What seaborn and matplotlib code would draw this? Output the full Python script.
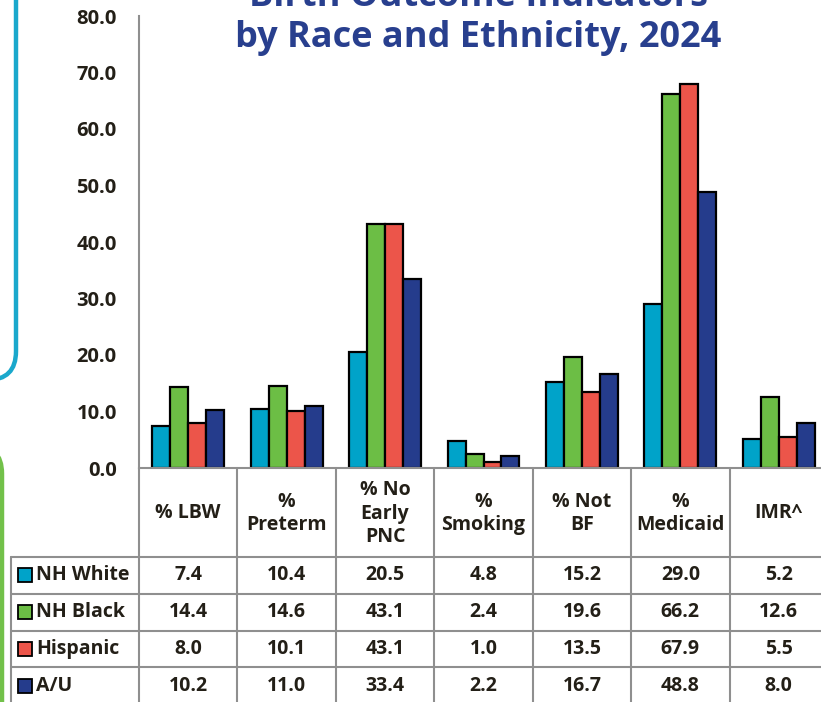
import matplotlib
matplotlib.use("Agg")
import matplotlib.pyplot as plt
import seaborn as sns
import pandas as pd
from matplotlib.patches import FancyBboxPatch

# ---- data ----
categories = ["% LBW", "%\nPreterm", "% No\nEarly\nPNC", "%\nSmoking", "% Not\nBF", "%\nMedicaid", "IMR^"]
groups = ["NH White", "NH Black", "Hispanic", "A/U"]
nh_white = [7.4, 10.4, 20.5, 4.8, 15.2, 29.0, 5.2]
nh_black = [14.4, 14.6, 43.1, 2.4, 19.6, 66.2, 12.6]
hispanic = [8.0, 10.1, 43.1, 1.0, 13.5, 67.9, 5.5]
a_u = [10.2, 11.0, 33.4, 2.2, 16.7, 48.8, 8.0]
y_ticks = [0, 10, 20, 30, 40, 50, 60, 70, 80]
title_lines = ["Birth Outcome Indicators", "by Race and Ethnicity, 2024"]

series = [nh_white, nh_black, hispanic, a_u]
colors = ["#00A3C9", "#6CBE45", "#EC554A", "#253C8C"]

rows = []
for g, vals in zip(groups, series):
    for c, v in zip(categories, vals):
        rows.append({"category": c, "group": g, "value": v})
df = pd.DataFrame(rows)

sns.set_theme(style="white")
plt.rcParams["font.family"] = ["Open Sans", "DejaVu Sans"]

W, H = 821, 702
fig = plt.figure(figsize=(W / 100, H / 100), dpi=100)
fig.patch.set_facecolor("white")

def fx(x):
    return x / W

def fy(y):
    return 1 - y / H

TXT = "#231F17"
GRID = "#8F8F8F"

# decorative frames
cyan_frame = FancyBboxPatch((fx(-300), fy(380)), fx(316), fy(-400) - fy(380),
                            boxstyle="round,pad=0,rounding_size=0.035",
                            transform=fig.transFigure, fill=False,
                            edgecolor="#1AA8CC", linewidth=3.2, mutation_aspect=W / H)
fig.patches.append(cyan_frame)
green_frame = FancyBboxPatch((fx(-300), fy(900)), fx(302), fy(445) - fy(900),
                             boxstyle="round,pad=0,rounding_size=0.035",
                             transform=fig.transFigure, fill=False,
                             edgecolor="#72C14A", linewidth=3.2, mutation_aspect=W / H)
fig.patches.append(green_frame)

# ---- main bar chart ----
ax_left, ax_right, ax_top, ax_bottom = 139, 828, 16, 468
ax = fig.add_axes([fx(ax_left), fy(ax_bottom), fx(ax_right - ax_left), (ax_bottom - ax_top) / H])
sns.barplot(data=df, x="category", y="value", hue="group", hue_order=groups,
            order=categories, palette=colors, saturation=1, width=0.73,
            edgecolor="black", linewidth=1.6, ax=ax, legend=False)
ax.set_xlim(-0.5, len(categories) - 0.5)
ax.set_ylim(0, 80)
ax.set_yticks(y_ticks)
ax.set_yticklabels([f"{v:.1f}" for v in y_ticks], fontsize=14.5, fontweight="bold", color=TXT)
ax.tick_params(axis="y", length=0, pad=16)
ax.set_xticks([])
ax.set_xlabel("")
ax.set_ylabel("")
for s in ["top", "right"]:
    ax.spines[s].set_visible(False)
for s in ["left", "bottom"]:
    ax.spines[s].set_color(GRID)
    ax.spines[s].set_linewidth(1.5)
ax.set_facecolor("none")

# ---- data table ----
tb_top, tb_bottom = 468, 704
tax = fig.add_axes([fx(ax_left), fy(tb_bottom), fx(ax_right - ax_left), (tb_bottom - tb_top) / H])
tax.set_xlim(-0.5, len(categories) - 0.5)
header_h = 89
row_h = (tb_bottom - tb_top - header_h) / len(groups)
tax.set_ylim(tb_bottom - tb_top, 0)
tax.axis("off")
colw = (ax_right - ax_left) / len(categories)
left_edge = -0.5 - (ax_left - 11) / colw

for k in range(len(categories) + 1):
    tax.plot([k - 0.5, k - 0.5], [0, tb_bottom - tb_top], color=GRID, lw=1.5, clip_on=False)
tax.plot([left_edge, left_edge], [header_h, tb_bottom - tb_top], color=GRID, lw=1.5, clip_on=False)
for r in range(len(groups) + 1):
    yy = header_h + r * row_h
    tax.plot([left_edge, len(categories) - 0.5], [yy, yy], color=GRID, lw=1.5, clip_on=False)

for i, c in enumerate(categories):
    tax.text(i, header_h / 2 + 1, c, ha="center", va="center", fontsize=14,
             fontweight="bold", color=TXT, linespacing=1.25)

sq_x = -0.5 - (ax_left - 25) / colw
lab_x = -0.5 - (ax_left - 36) / colw
for r, (g, vals, col) in enumerate(zip(groups, series, colors)):
    yc = header_h + (r + 0.5) * row_h
    tax.plot([sq_x], [yc], marker="s", markersize=10, markerfacecolor=col,
             markeredgecolor="black", markeredgewidth=1.3, clip_on=False)
    tax.text(lab_x, yc, g, ha="left", va="center", fontsize=14, fontweight="bold",
             color=TXT, clip_on=False)
    for i, v in enumerate(vals):
        tax.text(i, yc, f"{v:.1f}", ha="center", va="center", fontsize=14,
                 fontweight="bold", color=TXT)

# ---- title ----
fig.text(fx(478), fy(6), title_lines[0], ha="center", va="baseline", fontsize=26,
         fontweight="bold", color="#283F8E")
fig.text(fx(478), fy(47), title_lines[1], ha="center", va="baseline", fontsize=26,
         fontweight="bold", color="#283F8E")

fig.savefig("out.png", dpi=100)
